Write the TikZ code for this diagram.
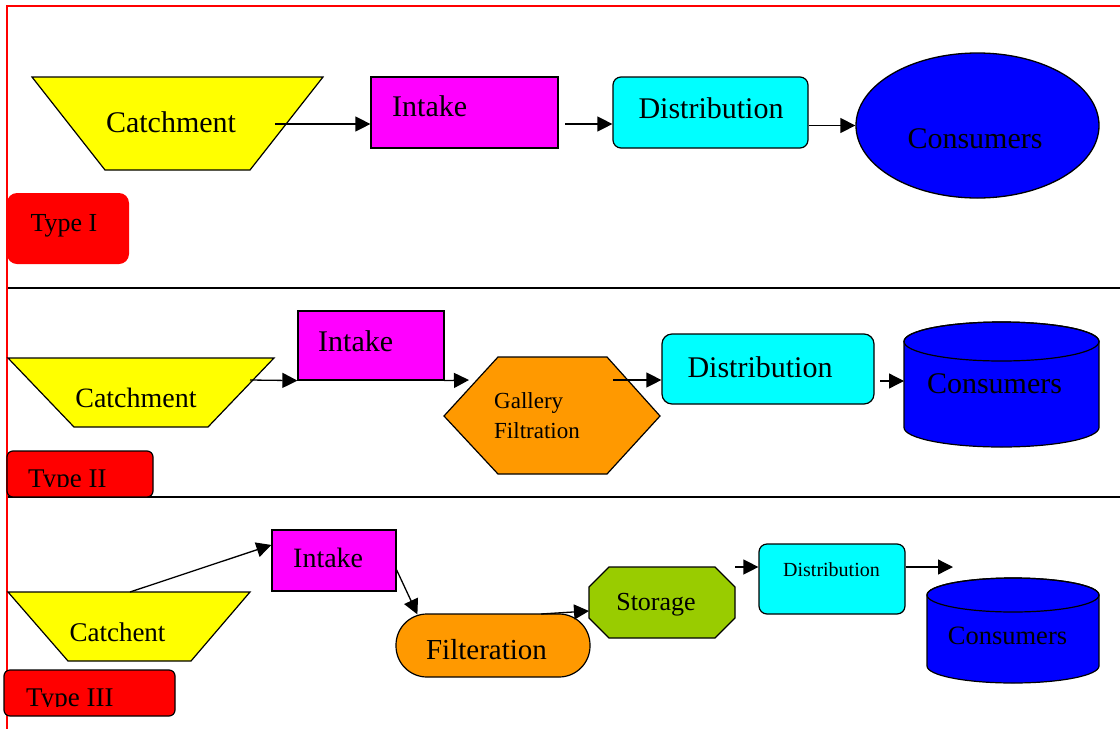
\documentclass[tikz,border=0pt]{standalone}
\usepackage{fontspec}
\setmainfont{Liberation Serif}
\usetikzlibrary{arrows.meta,shapes.geometric,calc}
\definecolor{myorange}{HTML}{FF9900}
\definecolor{mygreen}{HTML}{99CC00}
\definecolor{myyellow}{HTML}{FFFF00}
\definecolor{mymagenta}{HTML}{FF00FF}
\definecolor{mycyan}{HTML}{00FFFF}
\definecolor{myblue}{HTML}{0000FF}
\definecolor{myred}{HTML}{FF0000}
\newcommand{\fsz}[1]{\fontsize{#1}{#1}\selectfont}
\begin{document}
\begin{tikzpicture}[x=1pt,y=-1pt,
  shp/.style={draw=black, line width=1.2pt, line join=miter},
  conn/.style={draw=black, line width=1.3pt, -{Triangle[length=15pt,width=15pt]}},
  lbl/.style={inner sep=0pt, anchor=base, text=black},
  lblw/.style={inner sep=0pt, anchor=base west, text=black},
  boxnode/.style={draw=black, line width=1.2pt, inner sep=0pt},
  ]
\useasboundingbox (0,0) rectangle (1120,729);
\fill[white] (0,0) rectangle (1120,729);

% separators and frame
\draw[line width=1.3pt] (7,288) -- (1120,288);
\draw[line width=1.6pt] (7,497) -- (1120,497);
\draw[myred, line width=1.2pt] (1120,6) -- (7,6) -- (7,729);

% ---------------- Row 1 ----------------
\path[shp, fill=myyellow] (32,77) -- (323,77) -- (250,170) -- (105,170) -- cycle;
\node[lbl, font=\fsz{30}] (catch1) at (171,132) {Catchment};
\node[boxnode, fill=mymagenta, minimum width=187pt, minimum height=71pt] (int1) at (464.5,112.5) {};
\node[lblw, font=\fsz{30}] (int1t) at (392,116) {Intake};
\node[boxnode, fill=mycyan, rounded corners=8pt, minimum width=195pt, minimum height=71pt] (dist1) at (710.5,112.5) {};
\node[lbl, font=\fsz{30}] (dist1t) at (711,118) {Distribution};
\node[ellipse, draw=black, line width=1.3pt, fill=myblue, inner sep=0pt, minimum width=243pt, minimum height=145pt] (cons1) at (977.5,125.5) {};
\node[lbl, font=\fsz{30}] (cons1t) at (975,148) {Consumers};
\node[fill=myred, rounded corners=10pt, inner sep=0pt, minimum width=122pt, minimum height=71pt] (type1) at (68,228.5) {};
\node[lbl, font=\fsz{26}] (type1t) at (64,231) {Type I};

\coordinate (a1) at (275,124);
\coordinate (a2) at (565,124);
\draw[conn] (a1) -- (int1.west |- a1);
\draw[conn] (a2) -- (dist1.west |- a2);
\draw[conn] (dist1.east |- cons1.west) -- (cons1.west);

% ---------------- Row 2 ----------------
\path[shp, fill=myyellow] (8,358) -- (274,358) -- (208,427) -- (74,427) -- cycle;
\node[lbl, font=\fsz{28}] (catch2) at (136,407) {Catchment};
\node[boxnode, fill=mymagenta, minimum width=146pt, minimum height=69pt] (int2) at (371,345.5) {};
\node[lblw, font=\fsz{30}] (int2t) at (318,351) {Intake};
\path[shp, fill=myorange] (498,357) coordinate (h1) -- (607,357) coordinate (h2) -- (660,416) coordinate (h3)
   -- (607,474) coordinate (h4) -- (498,474) coordinate (h5) -- (444,416) coordinate (h6) -- cycle;
\node[lblw, font=\fsz{23}] (gal) at (494,408) {Gallery};
\node[lblw, font=\fsz{23}] (fil) at (494,438) {Filtration};
\node[boxnode, fill=mycyan, rounded corners=10pt, minimum width=212pt, minimum height=70pt] (dist2) at (768,369) {};
\node[lbl, font=\fsz{30}] (dist2t) at (760,377) {Distribution};
\path[shp, fill=myblue] (904,341.5) -- (904,427.5) arc[start angle=180, end angle=0, x radius=97.5, y radius=19.5]
   -- (1099,341.5) arc[start angle=0, end angle=-180, x radius=97.5, y radius=19.5] -- cycle;
\draw[shp] (1001.5,341.5) ellipse[x radius=97.5, y radius=19.5];
\coordinate (cyl2w) at (904,381);
\node[lbl, font=\fsz{30}] (cons2t) at (994.5,393) {Consumers};
\node[draw=black, line width=1.2pt, fill=myred, rounded corners=6pt, inner sep=0pt, minimum width=146pt, minimum height=46pt] (type2) at (80,474) {};
\begin{scope}
  \clip (7,440) rectangle (153,486);
  \node[lblw, font=\fsz{27}] (type2t) at (28,487) {Type II};
\end{scope}

\coordinate (b1) at (250,380);
\coordinate (b2) at (469,380);
\coordinate (b3) at (613,380);
\coordinate (b4) at (880,381);
\draw[conn] (b1) -- (int2.south west);
\draw[conn] (int2.south east) -- (b2);
\draw[conn] (b3) -- (dist2.west |- b3);
\draw[conn] (b4) -- (cyl2w);

% ---------------- Row 3 ----------------
\path[shp, fill=myyellow] (8,592) -- (250,592) -- (191,661) -- (68,661) -- cycle;
\node[lbl, font=\fsz{27}] (catch3) at (117.5,641) {Catchent};
\coordinate (c1) at (130,592);
\node[boxnode, fill=mymagenta, minimum width=124pt, minimum height=61pt] (int3) at (334,560.5) {};
\node[lblw, font=\fsz{28}] (int3t) at (293,567) {Intake};
\node[boxnode, fill=myorange, rounded corners=31pt, minimum width=194pt, minimum height=63pt] (filt3) at (493,645.5) {};
\node[lbl, font=\fsz{29}] (filt3t) at (486.5,659) {Filteration};
\path[shp, fill=mygreen] (609,567) -- (715,567) -- (735,587) -- (735,618) -- (715,638) -- (609,638) -- (589,618) -- (589,587) -- cycle;
\coordinate (storw) at (589,611);
\node[lbl, font=\fsz{26}] (stor) at (656,610) {Storage};
\node[boxnode, fill=mycyan, rounded corners=8pt, minimum width=146pt, minimum height=70pt] (dist3) at (832,579) {};
\node[lbl, font=\fsz{20}] (dist3t) at (831.5,576) {Distribution};
\path[shp, fill=myblue] (927,595) -- (927,666) arc[start angle=180, end angle=0, x radius=86, y radius=17]
   -- (1099,595) arc[start angle=0, end angle=-180, x radius=86, y radius=17] -- cycle;
\draw[shp] (1013,595) ellipse[x radius=86, y radius=17];
\node[lbl, font=\fsz{26.5}] (cons3t) at (1007.5,644) {Consumers};
\node[draw=black, line width=1.2pt, fill=myred, rounded corners=6pt, inner sep=0pt, minimum width=171pt, minimum height=46pt] (type3) at (89.5,693) {};
\begin{scope}
  \clip (4,660) rectangle (175,706);
  \node[lblw, font=\fsz{27}] (type3t) at (26,706.5) {Type III};
\end{scope}

\coordinate (c3) at (541,614);
\coordinate (c4) at (735,567);
\coordinate (c5) at (953,567);
\draw[conn] (c1) -- ($(int3.north west)!0.25!(int3.south west)$);
\draw[conn] ($(int3.north east)!0.65!(int3.south east)$) -- ($(filt3.north west)+(22,1)$);
\draw[conn] (c3) -- (storw);
\draw[conn] (c4) -- (dist3.west |- c4);
\draw[conn] (dist3.east |- c4) -- (c5);
\end{tikzpicture}
\end{document}
